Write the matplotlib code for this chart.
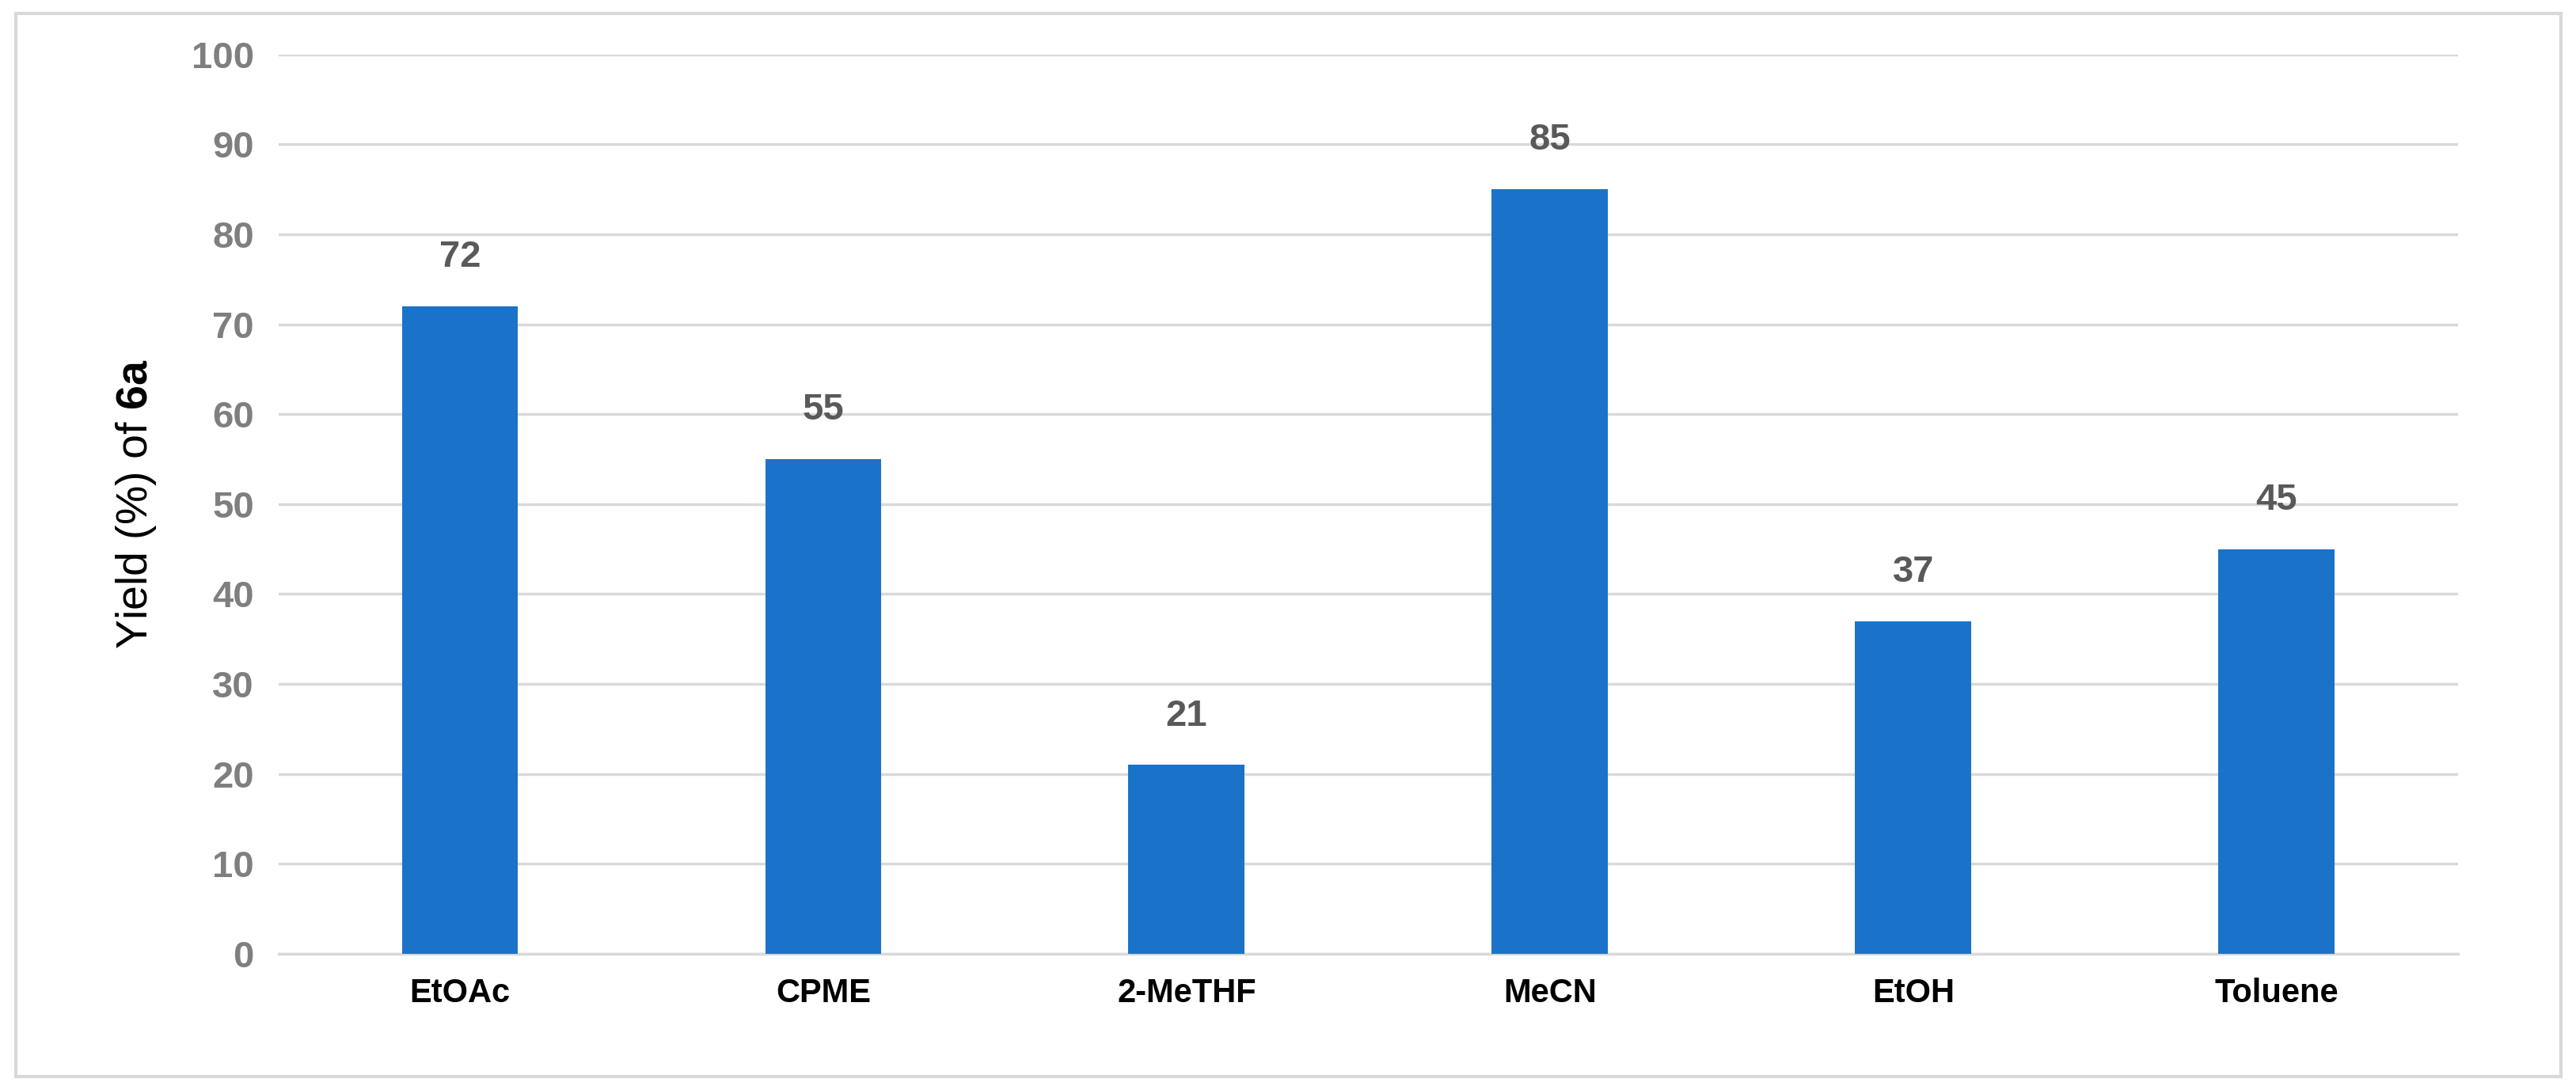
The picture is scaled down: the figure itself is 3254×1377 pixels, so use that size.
import matplotlib
matplotlib.use("Agg")
import matplotlib.pyplot as plt
from matplotlib.patches import Rectangle

solvents = ["EtOAc", "CPME", "2-MeTHF", "MeCN", "EtOH", "Toluene"]
yields = [72, 55, 21, 85, 37, 45]
y_ticks = list(range(0, 101, 10))

plt.rcParams["font.family"] = ["Liberation Sans", "DejaVu Sans"]
plt.rcParams["mathtext.fontset"] = "custom"
plt.rcParams["mathtext.bf"] = "Liberation Sans:bold"
plt.rcParams["mathtext.rm"] = "Liberation Sans"

fig = plt.figure(figsize=(32.55, 13.77), dpi=100)
ax = fig.add_axes([0.108, 0.125, 0.846, 0.825])

x = range(len(solvents))
ax.bar(x, yields, width=0.32, color="#1A73C9", zorder=3)
for xi, v in zip(x, yields):
    ax.text(xi, v + 3.5, str(v), ha="center", va="bottom", fontsize=34,
            fontweight="bold", color="#595959")

ax.set_ylim(0, 100)
ax.set_xlim(-0.5, len(solvents) - 0.5)
ax.set_yticks(y_ticks)
ax.set_yticklabels([str(t) for t in y_ticks], fontsize=34, fontweight="bold", color="#7f7f7f")
ax.set_xticks(list(x))
ax.set_xticklabels(solvents, fontsize=30, fontweight="bold", color="black")
ax.tick_params(axis="both", length=0, pad=22)
ax.grid(axis="y", color="#d9d9d9", linewidth=2.5, zorder=0)
for s in ["top", "right", "left"]:
    ax.spines[s].set_visible(False)
ax.spines["bottom"].set_color("#d9d9d9")
ax.spines["bottom"].set_linewidth(2.5)
ax.set_ylabel(r"Yield (%) of $\mathbf{6a}$", fontsize=40, labelpad=30)

fig.patches.append(Rectangle((0.006, 0.012), 0.988, 0.976, transform=fig.transFigure,
                             fill=False, edgecolor="#d9d9d9", linewidth=3))

fig.savefig("out.png", dpi=100)
